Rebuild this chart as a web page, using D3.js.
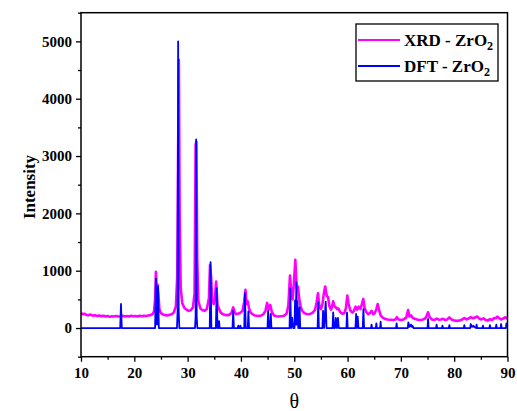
<!DOCTYPE html>
<html>
<head>
<meta charset="utf-8">
<script src="https://cdn.jsdelivr.net/npm/d3@7"></script>
<style>
  html, body { margin: 0; padding: 0; background: #fff; }
  svg { display: block; }
  text { font-family: "Liberation Serif", "Times New Roman", serif; }
</style>
</head>
<body>
<svg id="chart" width="517" height="411"></svg>
<script>
// ---- data ----
const seriesNames = ["XRD - ZrO", "DFT - ZrO"];
const xTickValues = [10, 20, 30, 40, 50, 60, 70, 80, 90];
const yTickValues = [0, 1000, 2000, 3000, 4000, 5000];

// XRD (experimental) pattern: [2θ, intensity]
const xrdTheta = [
  10, 10.3, 10.6, 11, 11.4, 11.8, 12.2, 12.6, 13, 13.4, 13.8, 14.2, 14.6, 15, 15.4, 15.8, 16.2, 16.6, 17, 17.4,
  17.8, 18.2, 18.6, 19, 19.4, 19.8, 20.2, 20.6, 21, 21.4, 21.8, 22.2, 22.6, 23, 23.4, 23.7, 23.9, 24.05, 24.2, 24.35,
  24.5, 24.7, 25, 25.4, 25.8, 26.2, 26.6, 27, 27.4, 27.8, 28.05, 28.2, 28.35, 28.5, 28.7, 29, 29.4, 29.8, 30.2, 30.6,
  31, 31.3, 31.5, 31.65, 31.8, 32, 32.4, 32.8, 33.2, 33.6, 34, 34.2, 34.4, 34.6, 34.9, 35.1, 35.35, 35.6, 35.9, 36.2,
  36.6, 37, 37.4, 37.8, 38.2, 38.55, 38.8, 39.1, 39.4, 39.8, 40.3, 40.6, 40.85, 41.05, 41.3, 41.5, 41.8, 42.2, 42.6, 43,
  43.4, 43.8, 44.2, 44.6, 44.9, 45.2, 45.5, 45.8, 46.2, 46.6, 47, 47.4, 47.8, 48.2, 48.6, 48.9, 49.2, 49.45, 49.7, 49.95,
  50.2, 50.45, 50.7, 50.95, 51.2, 51.5, 51.9, 52.3, 52.7, 53.1, 53.5, 53.9, 54.2, 54.45, 54.7, 55, 55.3, 55.55, 55.8, 56.1,
  56.35, 56.6, 56.9, 57.1, 57.3, 57.55, 57.8, 58.05, 58.3, 58.6, 59, 59.4, 59.7, 59.95, 60.2, 60.5, 60.9, 61.2, 61.5, 61.8,
  62.1, 62.4, 62.7, 62.95, 63.2, 63.5, 63.9, 64.2, 64.5, 64.8, 65.1, 65.4, 65.65, 65.9, 66.2, 66.6, 67, 67.5, 68, 68.5,
  69, 69.25, 69.5, 70, 70.5, 71, 71.35, 71.6, 71.9, 72.2, 72.6, 73, 73.5, 74, 74.5, 74.8, 75.1, 75.4, 75.8, 76.3,
  76.7, 77.1, 77.5, 77.9, 78.3, 78.7, 79.1, 79.5, 80, 80.5, 81, 81.5, 81.9, 82.3, 82.7, 83.1, 83.5, 83.9, 84.3, 84.7,
  85.1, 85.5, 85.9, 86.3, 86.7, 87.1, 87.5, 87.8, 88.1, 88.4, 88.8, 89.2, 89.6, 90
];
const xrdIntensity = [
  260, 240, 250, 230, 225, 235, 215, 225, 210, 220, 205, 215, 200, 210, 195, 205, 200, 210, 200, 205,
  215, 200, 210, 200, 215, 205, 210, 200, 215, 205, 215, 210, 220, 225, 240, 290, 500, 980, 700, 760,
  600, 330, 260, 235, 225, 220, 230, 240, 270, 380, 900, 2800, 4680, 2000, 700, 430, 350, 320, 300, 310,
  360, 600, 3200, 3250, 1200, 480, 340, 310, 300, 330, 520, 1100, 900, 500, 420, 500, 810, 400, 330, 270,
  240, 230, 225, 230, 260, 360, 280, 240, 250, 260, 300, 450, 665, 420, 465, 350, 270, 240, 220, 215,
  210, 220, 240, 300, 438, 320, 403, 280, 220, 205, 200, 205, 210, 220, 260, 400, 916, 600, 500, 800,
  1190, 700, 724, 500, 373, 300, 260, 245, 240, 250, 270, 320, 450, 607, 380, 330, 420, 600, 724, 560,
  537, 380, 320, 380, 466, 380, 360, 330, 340, 280, 250, 260, 350, 566, 420, 310, 270, 300, 373, 320,
  373, 330, 420, 508, 350, 280, 240, 260, 300, 240, 260, 330, 420, 320, 220, 180, 160, 150, 145, 140,
  150, 190, 155, 140, 150, 180, 315, 200, 220, 180, 160, 150, 140, 145, 160, 200, 274, 190, 150, 140,
  165, 145, 150, 160, 140, 150, 186, 150, 130, 125, 130, 150, 175, 150, 165, 190, 170, 185, 200, 165,
  150, 170, 140, 130, 155, 140, 175, 170, 198, 175, 150, 165, 190, 160
];

// DFT (simulated) pattern: [2θ, intensity]
const dftTheta = [
  10, 17.35, 17.5, 17.65,
  23.9, 24.05, 24.25, 24.45, 24.6,
  28.0, 28.12, 28.22, 28.32, 28.45,
  31.38, 31.5, 31.6, 31.7, 31.82,
  34.15, 34.3, 34.45, 35.3, 35.45, 35.6, 35.8, 35.9, 36.0,
  38.42, 38.55, 38.68, 39.4, 39.5, 39.6, 39.8, 39.9, 40.0,
  40.62, 40.75, 40.9, 41.28, 41.4, 41.52,
  44.98, 45.1, 45.25, 45.48, 45.6, 45.72,
  49.12, 49.25, 49.4, 49.6, 49.8, 50.05, 50.15, 50.28, 50.4, 50.5, 50.6, 50.75, 50.88, 51.0, 51.12,
  54.38, 54.5, 54.62, 55.28, 55.4, 55.6, 55.9, 56.05,
  57.18, 57.3, 57.45, 57.65, 57.8, 58.0, 58.2, 58.35,
  59.78, 59.9, 60.02, 61.48, 61.6, 61.75, 61.9, 62.05,
  62.85, 62.97, 63.1, 64.4, 64.5, 64.6, 65.3, 65.4, 65.5, 66.1, 66.2, 66.3,
  69.1, 69.2, 69.3, 71.3, 71.4, 71.6, 71.9, 72.05, 72.2, 72.35,
  75.0, 75.1, 75.2, 76.6, 76.7, 76.8, 77.7, 77.8, 77.9, 79.0, 79.1, 79.2,
  81.8, 81.9, 82.0, 83.0, 83.1, 83.35, 83.6, 83.75, 84.1, 84.2, 84.3,
  85.3, 85.4, 85.5, 86.6, 86.7, 86.8, 87.8, 87.9, 88.0, 88.7, 88.8, 88.9, 89.7, 89.8, 90
];
const dftIntensity = [
  0, 0, 420, 0,
  0, 860, 60, 730, 0,
  0, 300, 5000, 300, 0,
  0, 200, 3290, 200, 0,
  0, 1150, 0, 0, 700, 0, 0, 120, 0,
  0, 300, 0, 0, 40, 0, 0, 40, 0,
  0, 610, 0, 0, 290, 0,
  0, 300, 0, 0, 245, 0,
  0, 690, 0, 180, 0, 0, 480, 60, 800, 60, 470, 0, 0, 360, 0,
  0, 450, 0, 0, 300, 0, 460, 0,
  0, 274, 0, 0, 175, 0, 175, 0,
  0, 270, 0, 0, 245, 0, 200, 0,
  0, 330, 0, 0, 60, 0, 0, 80, 0, 0, 110, 0,
  0, 80, 0, 0, 100, 20, 60, 20, 40, 0,
  0, 158, 0, 0, 60, 0, 0, 40, 0, 0, 50, 0,
  0, 50, 0, 0, 70, 20, 40, 20, 0, 60, 0,
  0, 40, 0, 0, 50, 0, 0, 60, 0, 0, 70, 0, 0, 80, 40
];

const xrdData = xrdTheta.map((t, i) => [t, xrdIntensity[i]]);
const dftData = dftTheta.map((t, i) => [t, dftIntensity[i]]);

// ---- layout ----
const svg = d3.select("#chart");
const pLeft = 81, pRight = 507.5, pTop = 12.7, pBottom = 356.7;

const x = d3.scaleLinear().domain([10, 90]).range([pLeft, pRight]);
const y = d3.scaleLinear().domain([-500, 5500]).range([pBottom, pTop]);

svg.append("defs").append("clipPath").attr("id", "plotClip")
  .append("rect").attr("x", pLeft).attr("y", pTop).attr("width", pRight - pLeft).attr("height", pBottom - pTop);

const line = d3.line().x(d => x(d[0])).y(d => y(d[1]));

const plot = svg.append("g").attr("clip-path", "url(#plotClip)");
plot.append("path").datum(xrdData)
  .attr("d", line).attr("fill", "none").attr("stroke", "#FF00FF")
  .attr("stroke-width", 2.6).attr("stroke-linejoin", "round");
plot.append("path").datum(dftData)
  .attr("d", line).attr("fill", "none").attr("stroke", "#0000FF")
  .attr("stroke-width", 1.8).attr("stroke-linejoin", "round");

// ---- axes ----
const tickFont = g => g.selectAll("text")
  .attr("font-family", "'Liberation Serif', 'Times New Roman', serif")
  .attr("font-weight", "bold").attr("font-size", 15).attr("fill", "#000");

const xAxis = svg.append("g").attr("transform", `translate(0,${pBottom})`)
  .call(d3.axisBottom(x).tickValues(xTickValues).tickFormat(d3.format("d")).tickSize(5).tickPadding(6));
xAxis.call(tickFont);
xAxis.select(".domain").remove();
xAxis.selectAll("line").attr("stroke-width", 1.3);

const xMinor = svg.append("g").attr("transform", `translate(0,${pBottom})`)
  .call(d3.axisBottom(x).tickValues([15, 25, 35, 45, 55, 65, 75, 85]).tickFormat("").tickSize(3));
xMinor.select(".domain").remove();
xMinor.selectAll("line").attr("stroke-width", 1.3);

const yAxis = svg.append("g").attr("transform", `translate(${pLeft},0)`)
  .call(d3.axisLeft(y).tickValues(yTickValues).tickFormat(d3.format("d")).tickSize(5).tickPadding(4));
yAxis.call(tickFont);
yAxis.select(".domain").remove();
yAxis.selectAll("line").attr("stroke-width", 1.3);

const yMinor = svg.append("g").attr("transform", `translate(${pLeft},0)`)
  .call(d3.axisLeft(y).tickValues([-500, 500, 1500, 2500, 3500, 4500, 5500]).tickFormat("").tickSize(3));
yMinor.select(".domain").remove();
yMinor.selectAll("line").attr("stroke-width", 1.3);

// frame
svg.append("rect").attr("x", pLeft).attr("y", pTop).attr("width", pRight - pLeft).attr("height", pBottom - pTop)
  .attr("fill", "none").attr("stroke", "#000").attr("stroke-width", 1.5);

// axis titles
svg.append("text").attr("x", (pLeft + pRight) / 2).attr("y", 408)
  .attr("text-anchor", "middle").attr("font-size", 20).attr("fill", "#000").text("θ");
svg.append("text").attr("transform", `translate(35,187) rotate(-90)`)
  .attr("text-anchor", "middle").attr("font-size", 17).attr("font-weight", "bold").attr("fill", "#000")
  .text("Intensity");

// legend
const legend = svg.append("g");
legend.append("rect").attr("x", 356).attr("y", 24).attr("width", 142).attr("height", 57)
  .attr("fill", "#fff").attr("stroke", "#000").attr("stroke-width", 1.3);
const legendColors = ["#FF00FF", "#0000FF"];
seriesNames.forEach((name, i) => {
  const ly = 40 + i * 26;
  legend.append("line").attr("x1", 358).attr("x2", 400).attr("y1", ly).attr("y2", ly)
    .attr("stroke", legendColors[i]).attr("stroke-width", 1.8);
  const t = legend.append("text").attr("x", 404).attr("y", ly + 6)
    .attr("font-size", 17).attr("font-weight", "bold").attr("fill", "#000");
  t.append("tspan").text(name);
  t.append("tspan").attr("font-size", 12).attr("dy", 4).text("2");
});
</script>
</body>
</html>
